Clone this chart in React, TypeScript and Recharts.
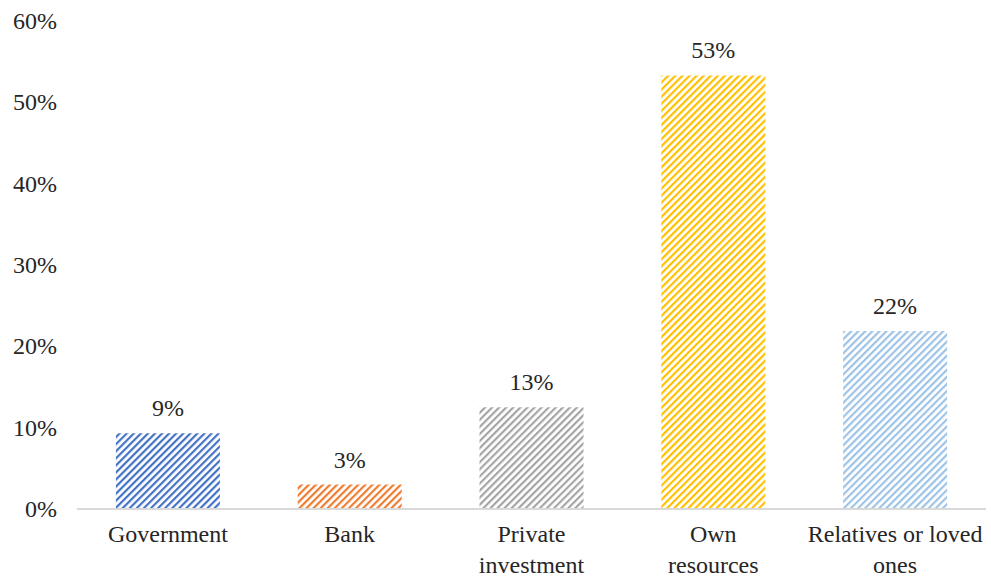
import React from 'react';
import { BarChart, Bar, XAxis, YAxis, Cell, LabelList } from 'recharts';

const categories = ['Government', 'Bank', 'Private\ninvestment', 'Own\nresources', 'Relatives or loved\nones'];
const shares = [0.093, 0.03, 0.125, 0.533, 0.219];
const colors = ['#4472C4', '#ED7D31', '#A5A5A5', '#FFC000', '#9DC3E6'];
const yTicks = [0, 0.1, 0.2, 0.3, 0.4, 0.5, 0.6];

const data = categories.map((name, i) => ({ name, value: shares[i] }));

const FONT = '"Liberation Serif", "Times New Roman", serif';
const TEXT = '#262626';

const pct = (v: any) => `${Math.round(Number(v) * 100)}%`;

function CategoryTick({ x, y, payload }: any) {
  const lines = String(payload.value).split('\n');
  return (
    <text x={x} y={y} textAnchor="middle" fill={TEXT} fontSize={24} style={{ fontFamily: FONT }}>
      {lines.map((line, i) => (
        <tspan key={i} x={x} dy={i === 0 ? 27 : 31}>
          {line}
        </tspan>
      ))}
    </text>
  );
}

function ValueTick({ x, y, payload }: any) {
  return (
    <text x={x} y={y} dy={8} textAnchor="end" fill={TEXT} fontSize={24} style={{ fontFamily: FONT }}>
      {pct(payload.value)}
    </text>
  );
}

function BarLabel({ x, y, width, value }: any) {
  return (
    <text x={x + width / 2} y={y - 17} textAnchor="middle" fill={TEXT} fontSize={24} style={{ fontFamily: FONT }}>
      {pct(value)}
    </text>
  );
}

export default function App() {
  return (
    <div style={{ position: 'absolute', left: 0, top: 0, width: 991, height: 579, background: '#fff', fontFamily: FONT }}>
      <BarChart
        width={991}
        height={579}
        data={data}
        margin={{ top: 21, right: 5, bottom: 0, left: 0 }}
        barCategoryGap="21.4%"
      >
        <defs>
          {colors.map((c, i) => (
            <pattern
              key={i}
              id={`hatch-${i}`}
              patternUnits="userSpaceOnUse"
              width={5}
              height={5}
              patternTransform="rotate(45)"
            >
              <rect x={0} y={0} width={2.2} height={5} fill={c} />
            </pattern>
          ))}
        </defs>
        <XAxis
          dataKey="name"
          height={70}
          tickLine={false}
          tickMargin={0}
          axisLine={{ stroke: '#D9D9D9', strokeWidth: 2 }}
          tick={<CategoryTick />}
          interval={0}
        />
        <YAxis
          width={77}
          domain={[0, 0.6]}
          ticks={yTicks}
          axisLine={false}
          tickLine={false}
          tickMargin={14}
          tick={<ValueTick />}
        />
        <Bar dataKey="value" isAnimationActive={false}>
          {data.map((_, i) => (
            <Cell key={i} fill={`url(#hatch-${i})`} />
          ))}
          <LabelList dataKey="value" content={<BarLabel />} />
        </Bar>
      </BarChart>
    </div>
  );
}
